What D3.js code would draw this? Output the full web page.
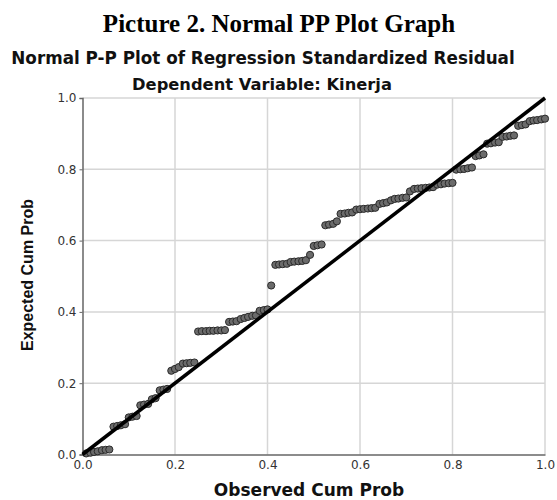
<!DOCTYPE html>
<html><head><meta charset="utf-8">
<script src="https://cdn.jsdelivr.net/npm/d3@7/dist/d3.min.js"></script>
<style>body{margin:0;background:#fff}svg{display:block}</style>
</head><body>
<svg id="c" width="557" height="500"></svg>
<script>
const mainTitle = "Picture 2. Normal PP Plot Graph";
const chartTitle = "Normal P-P Plot of Regression Standardized Residual";
const chartSubtitle = "Dependent Variable: Kinerja";
const xTitle = "Observed Cum Prob";
const yTitle = "Expected Cum Prob";
const tickValues = [0, 0.2, 0.4, 0.6, 0.8, 1.0];
const tickLabels = ["0.0", "0.2", "0.4", "0.6", "0.8", "1.0"];

const observed = [
 .008,.017,.025,.033,.042,.05,.058,.067,.075,.083,.092,.1,.108,.117,.125,.133,.142,.15,.158,.167,
 .175,.183,.192,.2,.208,.217,.225,.233,.242,.25,.258,.267,.275,.283,.292,.3,.308,.317,.325,.333,
 .342,.35,.358,.367,.375,.383,.392,.4,.408,.417,.425,.433,.442,.45,.458,.467,.475,.483,.492,.5,
 .508,.517,.525,.533,.542,.55,.558,.567,.575,.583,.592,.6,.608,.617,.625,.633,.642,.65,.658,.667,
 .675,.683,.692,.7,.708,.717,.725,.733,.742,.75,.758,.767,.775,.783,.792,.8,.808,.817,.825,.833,
 .842,.85,.858,.867,.875,.883,.892,.9,.908,.917,.925,.933,.942,.95,.958,.967,.975,.983,.992,1.0];
const expected = [
 .003,.005,.007,.009,.012,.013,.014,
 .078,.080,.082,.085,
 .104,.106,.108,
 .138,.140,.142,
 .155,.158,
 .180,.182,.184,
 .235,.240,.245,
 .255,.256,.257,.258,
 .345,.346,.346,.347,.347,.348,.348,.349,
 .372,.373,.374,
 .380,.383,.386,.389,.390,
 .403,.405,.407,
 .474,
 .532,.533,.534,.535,
 .540,.541,.542,.543,.545,
 .560,
 .585,.587,.589,
 .643,.645,.647,
 .654,
 .675,.676,.678,.679,
 .687,.688,.689,.690,.691,.692,
 .703,.705,.707,
 .713,
 .717,.718,.720,.721,
 .738,
 .745,.746,.747,.748,.749,.750,
 .757,.758,.760,.761,.762,
 .799,.800,.801,.803,.805,
 .837,.839,.842,
 .872,.873,.875,.876,
 .891,.892,.894,.895,
 .922,.924,.926,
 .935,.937,.938,.940,.942];
const refLine = [[0,0],[1,1]];

const svg = d3.select("#c");
const x = d3.scaleLinear().domain([0,1]).range([82.5,545]);
const y = d3.scaleLinear().domain([0,1]).range([454.5,98]);

// titles
svg.append("text").attr("x",279).attr("y",32).attr("text-anchor","middle")
  .style("font-family","'Liberation Serif','Times New Roman',serif").style("font-weight","bold")
  .style("font-size","25px").attr("fill","#000").text(mainTitle);
svg.append("text").attr("x",263).attr("y",64).attr("text-anchor","middle")
  .style("font-family","'DejaVu Sans',Verdana,sans-serif").style("font-weight","bold")
  .style("font-size","16.8px").attr("fill","#111").text(chartTitle);
svg.append("text").attr("x",262).attr("y",90).attr("text-anchor","middle")
  .style("font-family","'DejaVu Sans',Verdana,sans-serif").style("font-weight","bold")
  .style("font-size","16.3px").attr("fill","#111").text(chartSubtitle);

// grid
const g = svg.append("g");
g.selectAll(".vg").data(tickValues.slice(1)).join("line")
  .attr("x1",d=>x(d)).attr("x2",d=>x(d)).attr("y1",y(1)).attr("y2",y(0))
  .attr("stroke","#d6d6d6").attr("stroke-width",1.5);
g.selectAll(".hg").data(tickValues.slice(1)).join("line")
  .attr("x1",x(0)).attr("x2",x(1)).attr("y1",d=>y(d)).attr("y2",d=>y(d))
  .attr("stroke","#d6d6d6").attr("stroke-width",1.5);

// axes
const xAxis = d3.axisBottom(x).tickValues(tickValues).tickFormat((d,i)=>tickLabels[i]).tickSize(0).tickPadding(6);
const yAxis = d3.axisLeft(y).tickValues(tickValues).tickFormat((d,i)=>tickLabels[i]).tickSize(3).tickPadding(3);
const gx = svg.append("g").attr("transform",`translate(0,${y(0)})`).call(xAxis);
const gy = svg.append("g").attr("transform",`translate(${x(0)},0)`).call(yAxis);
[gx,gy].forEach(a=>{
  a.select(".domain").attr("stroke","#666").attr("stroke-width",1.5);
  a.selectAll(".tick line").attr("stroke","#666");
  a.selectAll("text").style("font-family","'DejaVu Sans',Verdana,sans-serif").style("font-size","12px").attr("fill","#333");
});

// axis titles
svg.append("text").attr("x",309).attr("y",496).attr("text-anchor","middle")
  .style("font-family","'DejaVu Sans',Verdana,sans-serif").style("font-weight","bold")
  .style("font-size","17px").attr("fill","#111").text(xTitle);
svg.append("text").attr("transform","translate(33,275) rotate(-90)").attr("text-anchor","middle")
  .style("font-family","'Liberation Sans Narrow','Arial Narrow','Liberation Sans',sans-serif").style("font-weight","bold")
  .style("font-size","16px").attr("fill","#111").text(yTitle);

// points
const pts = observed.map((o,i)=>[o,expected[i]]);
svg.append("g").selectAll("circle").data(pts).join("circle")
  .attr("cx",d=>x(d[0])).attr("cy",d=>y(d[1])).attr("r",3.6)
  .attr("fill","#6b6b6b").attr("stroke","#2a2a2a").attr("stroke-width",1);

// reference line
svg.append("line").attr("x1",x(refLine[0][0])).attr("y1",y(refLine[0][1]))
  .attr("x2",x(refLine[1][0])).attr("y2",y(refLine[1][1]))
  .attr("stroke","#000").attr("stroke-width",3.5);
</script>
</body></html>
